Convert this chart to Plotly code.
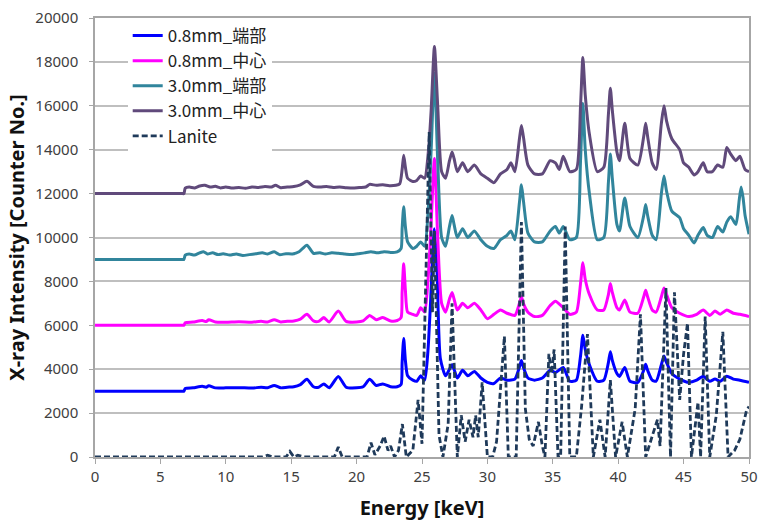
import plotly.graph_objects as go

# ---- data (energy keV, intensity) ----
edge_08 = [(0,3000),(3.4,3000),(6.7,3000),(6.8,3000),(6.9,3120),(7.5,3150),(8.2,3220),(8.5,3180),(8.7,3250),(9.2,3150),(10,3150),(11,3160),
           (12,3140),(12.7,3180),(13.2,3160),(13.7,3260),(14.2,3150),(14.7,3180),(15.2,3200),(15.7,3300),(16.2,3540),
           (16.7,3200),(17.1,3180),(17.5,3330),(17.9,3150),(18.6,3670),(19.2,3180),(20.0,3150),(20.5,3200),(21.0,3540),
           (21.5,3260),(22.0,3330),(22.6,3200),(23.1,3200),(23.4,3300),(23.48,4300),(23.6,5400),(23.73,4400),(23.9,3700),
           (24.3,3500),(24.6,3450),(24.9,3700),(25.2,3500),(25.45,4800),(25.65,7000),(25.95,10400),(26.15,8500),(26.4,4500),
           (26.8,3700),(27.1,4000),(27.3,4200),(27.45,4000),(27.7,3600),
           (28.1,3950),(28.5,3700),(29.0,3900),(29.5,3600),(30.0,3400),(30.5,3350),(31.0,3600),(31.5,3500),(32.1,3550),
           (32.45,4100),(32.6,4400),(32.75,4100),(33.1,3600),(33.6,3500),(34.2,3600),(34.8,3950),(35.2,3850),(35.8,4080),
           (36.3,3450),(36.8,3500),(37.12,4600),(37.3,5550),(37.48,4900),(37.8,4200),(38.4,3450),(38.9,3500),(39.25,4300),
           (39.4,4800),(39.55,4400),(39.9,3800),(40.1,3670),(40.5,4080),(40.9,3450),
           (41.5,3400),(41.95,3950),(42.1,4220),(42.25,3950),(42.6,3500),(42.9,3450),(43.3,4200),(43.5,4600),(43.7,4300),
           (44.1,3800),(44.7,3550),(45.4,3400),(46.0,3500),
           (46.5,3680),(47.0,3450),(47.4,3550),(47.8,3450),(48.3,3680),(48.8,3550),(49.3,3500),(50,3400)]

center_08 = [(0,6000),(3.4,6000),(6.7,6000),(6.8,6000),(6.9,6120),(7.5,6150),(8.2,6220),(8.5,6170),(8.7,6250),(9.2,6150),(10,6140),(11,6160),
             (12,6140),(12.7,6180),(13.2,6150),(13.7,6250),(14.2,6150),(14.7,6180),(15.2,6200),(15.7,6280),(16.2,6500),
             (16.7,6200),(17.1,6180),(17.5,6350),(17.9,6150),(18.6,6650),(19.2,6180),(20.0,6150),(20.5,6200),(21.0,6450),
             (21.5,6250),(22.0,6350),(22.6,6200),(23.1,6220),(23.4,6350),(23.48,7500),(23.6,8800),(23.73,7600),(23.9,6600),
             (24.3,6500),(24.6,6450),(24.9,6800),(25.2,6600),(25.45,8000),(25.65,10000),(25.95,13600),(26.2,10000),(26.5,7000),
             (26.8,6600),(27.1,7200),(27.3,7500),(27.45,7200),(27.7,6700),
             (28.1,7000),(28.5,6800),(29.0,7000),(29.5,6700),(30.0,6300),(30.5,6500),(31.0,6700),(31.5,6550),(32.1,6450),
             (32.45,7000),(32.6,7300),(32.75,7000),(33.1,6600),(33.6,6400),(34.2,6450),(34.8,6900),(35.2,7100),(35.8,6800),
             (36.3,6500),(36.8,6600),(37.12,7900),(37.3,8850),(37.48,8100),(37.8,7400),(38.4,6700),(38.9,6700),(39.25,7400),
             (39.4,7900),(39.55,7500),(39.9,6800),(40.1,6700),(40.5,7150),(40.9,6600),
             (41.5,6550),(41.95,7300),(42.1,7600),(42.25,7300),(42.6,6700),(42.9,6600),(43.3,7300),(43.5,7700),(43.7,7400),
             (44.1,6800),(44.7,6550),(45.4,6400),(46.0,6500),
             (46.5,6700),(47.0,6450),(47.4,6650),(47.8,6500),(48.3,6700),(48.8,6550),(49.3,6500),(50,6400)]

edge_30 = [(0,9000),(3.4,9000),(6.7,9000),(6.8,9000),(6.9,9200),(7.2,9250),(7.6,9200),(8.0,9300),(8.3,9350),(8.6,9250),(9.0,9300),(9.4,9220),
           (9.8,9260),(10.3,9200),(10.8,9250),(11.3,9180),(11.8,9220),(12.3,9260),(12.8,9300),(13.2,9250),(13.7,9350),
           (14.1,9220),(14.6,9260),(15.1,9250),(15.6,9350),(16.2,9650),(16.7,9280),(17.2,9300),(17.6,9250),(18.1,9300),
           (18.6,9280),(19.1,9250),(19.6,9220),(20.1,9260),(20.6,9300),(21.1,9350),(21.6,9300),(22.1,9350),(22.6,9320),
           (23.1,9350),(23.4,9500),(23.48,10400),(23.6,11400),(23.73,10500),(23.9,9800),(24.3,9500),(24.6,9600),(24.9,9800),
           (25.2,9600),(25.5,11500),(25.7,14000),(25.95,17500),(26.2,13500),(26.5,10000),(26.8,9600),(27.1,10500),(27.3,11000),
           (27.45,10600),(27.7,10000),(28.1,10400),(28.5,10000),
           (29.0,10300),(29.5,9900),(30.0,9600),(30.5,9500),(31.0,9900),(31.5,10100),(31.8,10300),(32.1,9900),(32.45,11600),
           (32.6,12400),(32.75,11700),(33.1,10200),(33.6,9800),(34.2,9800),(34.8,10300),(35.2,10500),(35.5,10200),(35.8,10500),
           (36.3,9900),(36.8,10000),(37.12,13500),(37.3,16100),(37.48,14000),(37.8,12000),(38.4,9900),(38.9,10000),
           (39.25,12500),(39.4,13800),(39.55,12700),(39.9,10600),(40.1,10300),
           (40.5,11800),(40.9,10500),(41.5,10000),(41.95,11000),(42.1,11500),(42.25,11000),(42.6,10100),(42.9,9900),
           (43.3,12000),(43.5,12800),(43.7,12100),(44.1,11200),
           (44.7,10900),(45.0,10400),(45.4,10100),(45.8,9750),(46.1,10100),(46.5,10450),(46.8,10100),(47.2,10000),
           (47.6,10500),(48.0,10250),(48.3,10700),(48.6,10950),(49.0,10600),(49.25,11700),(49.4,12300),(49.55,11800),
           (49.7,11000),(50,10150)]

center_30 = [(0,12000),(3.4,12000),(6.7,12000),(6.8,12000),(6.9,12250),(7.2,12300),(7.6,12260),(8.0,12350),(8.4,12380),(8.8,12300),(9.2,12330),
             (9.6,12260),(10.0,12300),(10.5,12250),(11.0,12280),(11.5,12240),(12.0,12300),(12.5,12280),(13.0,12320),
             (13.5,12300),(13.8,12380),(14.2,12270),(14.7,12300),(15.2,12320),(15.7,12400),(16.2,12560),(16.7,12330),
             (17.2,12300),(17.7,12320),(18.2,12280),(18.7,12300),(19.2,12270),(19.7,12250),(20.2,12280),(20.7,12300),
             (21.0,12420),(21.5,12380),(22.0,12400),(22.5,12360),(23.0,12380),(23.3,12450),(23.48,13100),(23.6,13750),
             (23.73,13200),(23.9,12700),
             (24.3,12550),(24.6,12600),(24.9,12800),(25.2,12700),(25.5,14000),(25.7,15800),(25.95,18700),(26.2,16000),(26.5,13000),
             (26.8,12700),(27.1,13500),(27.3,13900),(27.45,13600),(27.7,13000),(28.1,13400),(28.5,13000),(29.0,13300),(29.5,12900),
             (30.0,12700),
             (30.5,12500),(31.0,12900),(31.5,13100),(31.8,13400),(32.1,13000),(32.45,14500),(32.6,15100),(32.75,14600),
             (33.1,13300),(33.6,12900),
             (34.2,12900),(34.8,13500),(35.2,13400),(35.5,13100),(35.8,13700),(36.3,13000),(36.8,13100),(37.12,16000),
             (37.3,18200),(37.48,16500),
             (37.8,14700),(38.4,13000),(38.9,13200),(39.25,15600),(39.4,16800),(39.55,15800),(39.9,13900),(40.1,13500),
             (40.5,15200),(40.9,13600),
             (41.5,13300),(41.95,14600),(42.1,15200),(42.25,14600),(42.6,13400),(42.9,13100),(43.3,15200),(43.5,16000),
             (43.7,15300),(44.1,14500),(44.7,14000),(45.0,13400),
             (45.4,13200),(45.8,12850),(46.1,13000),(46.5,13400),(46.8,13000),(47.2,13000),(47.6,13300),(48.0,13200),
             (48.3,14100),(48.6,13800),(49.0,13500),(49.3,13700),(49.7,13100),(50,13000)]

lanite = [(0,0),(12.8,0),(13.2,80),(13.6,0),(14.6,0),(14.9,250),(15.2,0),(15.5,80),(16.0,0),(18.3,0),(18.6,450),(18.9,0),
          (20.8,0),(21.1,650),(21.4,100),(21.8,500),(22.1,950),(22.4,300),(22.6,500),(22.9,0),(23.2,300),(23.5,1500),
          (23.8,0),(24.3,300),(24.7,2600),(25.0,600),(25.55,14800),(25.8,6600),(25.95,10300),(26.3,1000),(26.6,0),
          (27.0,1500),(27.3,7000),(27.7,0),(28.0,1900),(28.3,700),(28.6,1700),(28.9,900),(29.1,1900),(29.3,900),
          (29.6,3400),(30.0,0),(30.4,0),(30.7,700),(31.3,5500),(31.6,0),(32.2,0),(32.6,10700),(32.9,2200),(33.2,800),
          (33.5,500),(33.9,1600),(34.2,500),(34.4,0),(34.7,4700),(34.9,3800),(35.1,4900),(35.4,0),(35.6,0),(35.95,10500),
          (36.3,0),(36.8,0),(37.2,2300),(37.65,5600),(38.1,0),(38.6,1700),(39.0,0),(39.4,3500),(39.8,0),(40.3,1600),
          (40.7,0),(41.3,2200),(41.7,6500),(42.1,0),(42.6,950),(43.0,1700),(43.2,500),(43.65,7700),(44.0,0),(44.3,7500),
          (44.7,2600),(45.0,4700),(45.3,6100),(45.6,0),(46.1,2500),(46.3,0),(46.65,6400),(47.0,0),(47.5,1900),(48.0,5700),
          (48.4,0),(48.9,300),(49.3,800),(49.8,2100),(50,2300)]

series_names = ["0.8mm_端部", "0.8mm_中心", "3.0mm_端部", "3.0mm_中心", "Lanite"]
x_ticks = [0, 5, 10, 15, 20, 25, 30, 35, 40, 45, 50]
y_ticks = [0, 2000, 4000, 6000, 8000, 10000, 12000, 14000, 16000, 18000, 20000]

colors = ["#0000FF", "#FF00FF", "#31859C", "#604A7B", "#1F3A5A"]
datasets = [edge_08, center_08, edge_30, center_30, lanite]

fig = go.Figure()
for name, data, col in zip(series_names, datasets, colors):
    xs = [p[0] for p in data]
    ys = [p[1] for p in data]
    if name == "Lanite":
        line = dict(color=col, width=2.8, dash="6px,3px")
    else:
        line = dict(color=col, width=3, shape="spline", smoothing=0.6)
    fig.add_trace(go.Scatter(x=xs, y=ys, mode="lines", name=name, line=line))

fig.update_layout(
    width=765, height=523,
    margin=dict(l=95, r=7, t=17, b=65),
    paper_bgcolor="white", plot_bgcolor="white",
    font=dict(family="Noto Sans, Noto Sans CJK JP", size=15, color="#404040"),
    legend=dict(x=0.05, y=1.0, xanchor="left", yanchor="top",
                bgcolor="white", borderwidth=0,
                font=dict(family="Noto Sans CJK JP", size=17, color="#222222"),
                tracegroupgap=0),
    showlegend=True,
)
fig.update_xaxes(range=[0, 50], tickvals=x_ticks, showgrid=False, zeroline=False,
                 showline=True, linecolor="#A6A6A6", linewidth=1.5, mirror=True,
                 ticks="outside", ticklen=5, tickcolor="#A6A6A6",
                 title=dict(text="<b>Energy [keV]</b>", font=dict(size=20, color="#111111"), standoff=16))
fig.update_yaxes(range=[0, 20000], tickvals=y_ticks, tickformat="d", showgrid=True,
                 gridcolor="#BFBFBF", gridwidth=1.5, zeroline=False,
                 showline=True, linecolor="#A6A6A6", linewidth=1.5, mirror=True,
                 ticks="outside", ticklen=4, tickcolor="#A6A6A6", ticklabelstandoff=8,
                 title=dict(text="<b>X-ray Intensity [Counter No.]</b>", font=dict(size=20, color="#111111"), standoff=5))

fig.write_html("out.html")
